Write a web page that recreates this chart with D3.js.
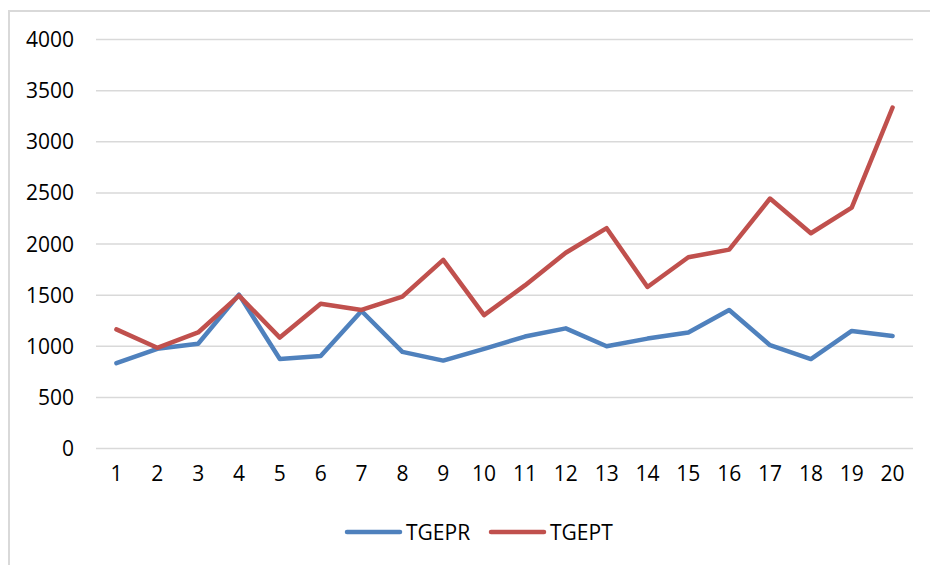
<!DOCTYPE html>
<html lang="en">

<head>
  <meta charset="UTF-8">
  <title>TGEPR vs TGEPT</title>
  <script src="https://d3js.org/d3.v7.min.js"></script>
  <style>
    body {
      margin: 0;
      background: #fff;
      font-family: "Open Sans", Arial, sans-serif;
    }

    .tick text {
      font-family: "Open Sans", Arial, sans-serif;
      font-size: 21px;
      fill: #000;
    }

    .legend-label {
      font-family: "Open Sans", Arial, sans-serif;
      font-size: 21px;
      fill: #000;
    }
  </style>
</head>

<body>
  <div id="chart"></div>

  <script>
    const categories = d3.range(1, 21).map(String);
    const tgepr = [830, 970, 1020, 1500, 870, 900, 1340, 940, 855, 970,
      1090, 1170, 995, 1070, 1130, 1350, 1005, 870, 1145, 1095];
    const tgept = [1160, 980, 1130, 1490, 1080, 1410, 1350, 1480, 1840, 1300,
      1590, 1910, 2150, 1575, 1865, 1940, 2440, 2100, 2350, 3330];
    const yTicks = [0, 500, 1000, 1500, 2000, 2500, 3000, 3500, 4000];

    const series = [
      { name: "TGEPR", values: tgepr, color: "#4F81BD" },
      { name: "TGEPT", values: tgept, color: "#C0504D" }
    ];

    const W = 930, H = 565;
    const margin = { top: 39, right: 17, bottom: 117, left: 96 };
    const width = W - margin.left - margin.right;
    const height = H - margin.top - margin.bottom;

    const root = d3.select("#chart").append("svg")
      .attr("width", W)
      .attr("height", H);

    // outer chart border (only top and left are visible)
    root.append("path")
      .attr("d", `M9,${H} V11 H${W}`)
      .attr("fill", "none")
      .attr("stroke", "#d9d9d9")
      .attr("stroke-width", 2);

    const svg = root.append("g")
      .attr("transform", `translate(${margin.left},${margin.top})`);

    const x = d3.scaleBand()
      .domain(categories)
      .range([0, width]);

    const y = d3.scaleLinear()
      .domain([0, 4000])
      .range([height, 0]);

    // gridlines + y labels
    svg.append("g")
      .call(d3.axisLeft(y).tickValues(yTicks).tickFormat(d3.format("d"))
        .tickSize(-width).tickPadding(22))
      .call(g => g.select(".domain").remove())
      .call(g => g.selectAll(".tick line").attr("stroke", "#d9d9d9").attr("stroke-width", 1.5))
      .call(g => g.selectAll(".tick text").attr("dy", "0.36em"));

    // x labels
    svg.append("g")
      .attr("transform", `translate(0,${height})`)
      .call(d3.axisBottom(x).tickSize(0).tickPadding(18))
      .call(g => g.select(".domain").remove());

    const line = d3.line()
      .x((d, i) => x(categories[i]) + x.bandwidth() / 2)
      .y(d => y(d));

    svg.selectAll(".series")
      .data(series)
      .enter().append("path")
      .attr("class", "series")
      .attr("fill", "none")
      .attr("stroke", d => d.color)
      .attr("stroke-width", 4.5)
      .attr("stroke-linejoin", "round")
      .attr("stroke-linecap", "round")
      .attr("d", d => line(d.values));

    // legend
    const legend = root.append("g")
      .attr("transform", "translate(347,532)");

    const item = legend.selectAll(".item")
      .data(series)
      .enter().append("g")
      .attr("class", "item")
      .attr("transform", (d, i) => `translate(${i * 144},0)`);

    item.append("line")
      .attr("x1", 0)
      .attr("x2", 53)
      .attr("stroke", d => d.color)
      .attr("stroke-width", 4.5)
      .attr("stroke-linecap", "round");

    item.append("text")
      .attr("class", "legend-label")
      .attr("x", 59)
      .attr("dy", "0.36em")
      .text(d => d.name);
  </script>
</body>

</html>
